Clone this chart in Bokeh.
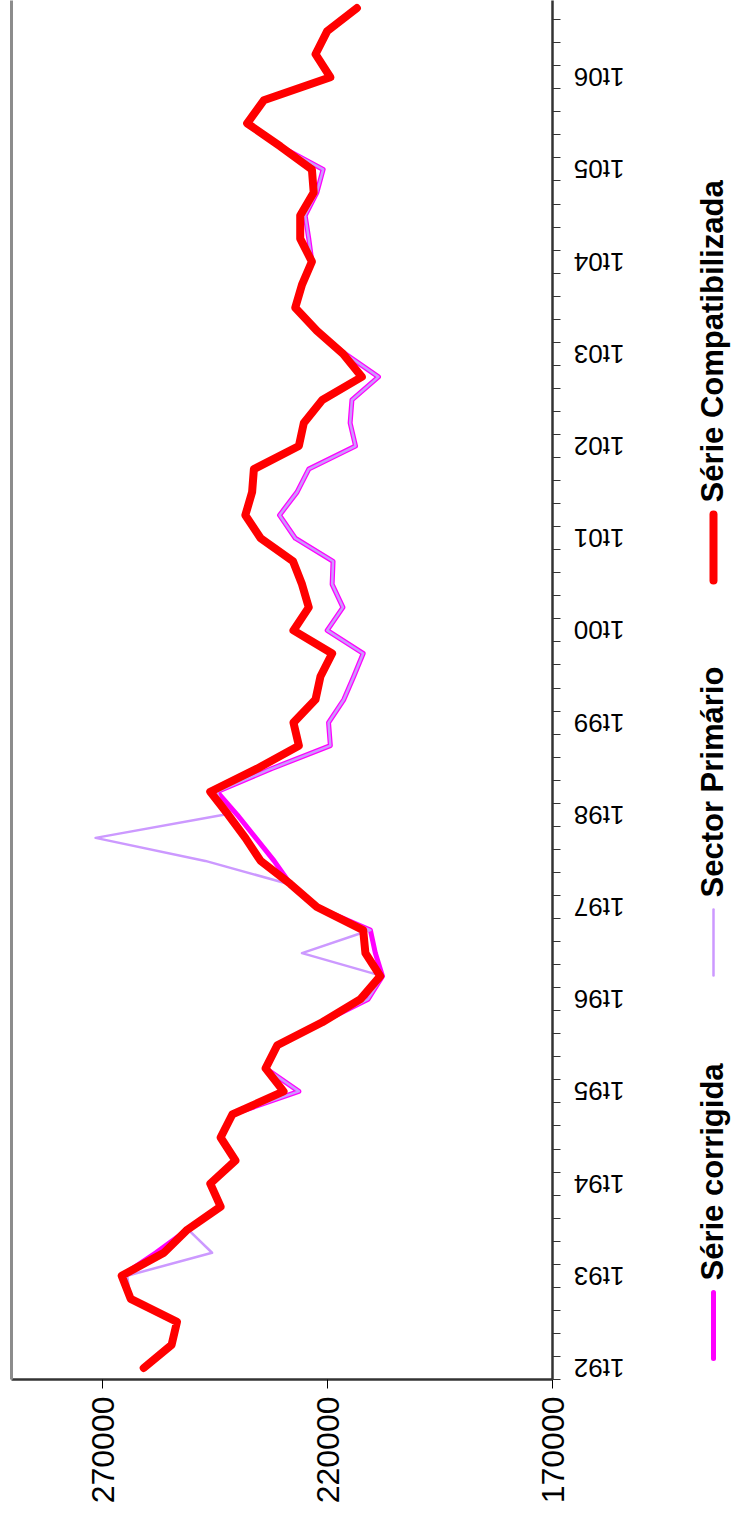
import math
from bokeh.plotting import figure
from bokeh.models import Range1d, FixedTicker, LinearAxis, NumeralTickFormatter
from bokeh.layouts import row
from bokeh.embed import file_html
from bokeh.resources import INLINE
from bokeh.core.properties import value

# ---------------- data ----------------
year_labels = ["1t92", "1t93", "1t94", "1t95", "1t96", "1t97", "1t98", "1t99",
               "1t00", "1t01", "1t02", "1t03", "1t04", "1t05", "1t06"]
quarter_index = list(range(60))          # 1t92 ... 4t06

serie_compatibilizada = [
    260900, 254700, 253500, 263800, 265800, 256400, 251200, 243800, 246100, 240500,
    243800, 241200, 229800, 233800, 231200, 221200, 212700, 208300, 211600, 212100,
    222400, 228300, 234900, 238300, 242100, 246100, 235700, 226400, 227600, 222700,
    221600, 219000, 227600, 224200, 225700, 227700, 234900, 238300, 236800, 236400,
    226400, 225300, 221200, 212400, 216600, 222400, 227200, 225700, 223500, 226100,
    226100, 223100, 223500, 230500, 237900, 234200, 219400, 222700, 220100, 213500]

serie_corrigida = [
    260900, 254700, 253500, 263800, 265800, 258200, 251200, 243800, 246100, 240500,
    243800, 241200, 226400, 233800, 231200, 221200, 211000, 207800, 209400, 210500,
    222400, 228300, 231900, 236000, 240100, 244600, 232500, 219400, 219800, 216400,
    214200, 212100, 220100, 216600, 219000, 218800, 227200, 230700, 226800, 224200,
    213800, 215000, 214600, 208700, 216100, 222400, 227200, 225700, 223500, 224200,
    225000, 222400, 221000, 230500, 237900, 234200, 219400, 222700, 220100, 213500]

sector_primario = [
    260900, 254700, 253500, 263800, 264600, 245700, 251000, 243800, 246100, 240500,
    243800, 241200, 226400, 233800, 231200, 221200, 211000, 207800, 225700, 210500,
    222400, 228700, 247200, 271600, 243100, 244600, 232500, 219400, 219800, 216400,
    214200, 212100, 220100, 216600, 219000, 218800, 227200, 230700, 226800, 224200,
    213800, 215000, 214600, 208700, 216100, 222400, 227200, 225700, 223500, 224200,
    225000, 222400, 221000, 230500, 237900, 234200, 219400, 222700, 220100, 213500]

value_ticks = [170000, 220000, 270000]

FONT = "Liberation Sans"
AXIS_COLOR = "#333333"

# ---------------- main plot ----------------
p = figure(width=682, height=1519,
           x_range=Range1d(290300, 170000), y_range=Range1d(-0.5, 59.33),
           output_backend="svg", toolbar_location=None,
           x_axis_location=None, y_axis_location=None,
           min_border_left=11, min_border_right=130,
           min_border_top=0, min_border_bottom=140)
p.outline_line_color = None
p.xgrid.visible = False
p.ygrid.visible = False
p.background_fill_color = "white"
p.border_fill_color = "white"

# series (drawn back to front)
p.line(serie_corrigida, quarter_index, line_color="#FF00FF", line_width=5,
       line_join="round", line_cap="round")
p.line(sector_primario, quarter_index, line_color="#CC99FF", line_width=2.5,
       line_join="round", line_cap="round")
p.line(serie_compatibilizada, quarter_index, line_color="#FF0000", line_width=8,
       line_join="round", line_cap="round")

# left border (grey)
left_axis = LinearAxis(ticker=FixedTicker(ticks=[]),
                       axis_line_color="#8c8c8c", axis_line_width=3,
                       major_tick_line_color=None, minor_tick_line_color=None,
                       major_label_text_font_size="0px")
p.add_layout(left_axis, "left")

# value axis (bottom)
val_axis = LinearAxis(ticker=FixedTicker(ticks=value_ticks),
                      formatter=NumeralTickFormatter(format="0"),
                      axis_line_color=AXIS_COLOR, axis_line_width=2.5,
                      major_tick_line_color="black", major_tick_in=0, major_tick_out=9,
                      minor_tick_line_color=None,
                      major_label_orientation=math.pi / 2,
                      major_label_standoff=8,
                      major_label_text_font=FONT,
                      major_label_text_font_size="32px",
                      major_label_text_color="black")
p.add_layout(val_axis, "below")

# time axis (right)
label_pos = [4 * k for k in range(len(year_labels))]
boundaries = [i - 0.5 for i in range(61)]
time_axis = LinearAxis(ticker=FixedTicker(ticks=label_pos, minor_ticks=boundaries),
                       major_label_overrides={pos: lab for pos, lab in zip(label_pos, year_labels)},
                       axis_line_color=AXIS_COLOR, axis_line_width=2.5,
                       major_tick_line_color=None,
                       minor_tick_line_color=AXIS_COLOR, minor_tick_in=0, minor_tick_out=8,
                       major_label_orientation=math.pi,
                       major_label_standoff=64,
                       major_label_text_font=FONT,
                       major_label_text_font_size="26px",
                       major_label_text_color="black")
p.add_layout(time_axis, "right")

# ---------------- legend (rotated) ----------------
lg = figure(width=49, height=1519, x_range=Range1d(0, 49), y_range=Range1d(140, 1519),
            output_backend="svg", toolbar_location=None,
            x_axis_location=None, y_axis_location=None,
            min_border_left=0, min_border_right=0,
            min_border_top=0, min_border_bottom=140)
lg.outline_line_color = None
lg.xgrid.visible = False
lg.ygrid.visible = False

legend_items = [
    ("Série corrigida", "#FF00FF", 5, 161),
    ("Sector Primário", "#CC99FF", 2.5, 544),
    ("Série Compatibilizada", "#FF0000", 8, 939),
]
for name, color, w, y0 in legend_items:
    lg.line([31, 31], [y0, y0 + 66], line_color=color, line_width=w, line_cap="round")
    lg.text(x=[30], y=[y0 + 78], text=[name], angle=math.pi / 2,
            text_align="left", text_baseline="middle",
            text_font=value(FONT), text_font_style="bold",
            text_font_size="31px", text_color="black")

layout = row(p, lg)
open("out.html", "w").write(file_html(layout, INLINE))
